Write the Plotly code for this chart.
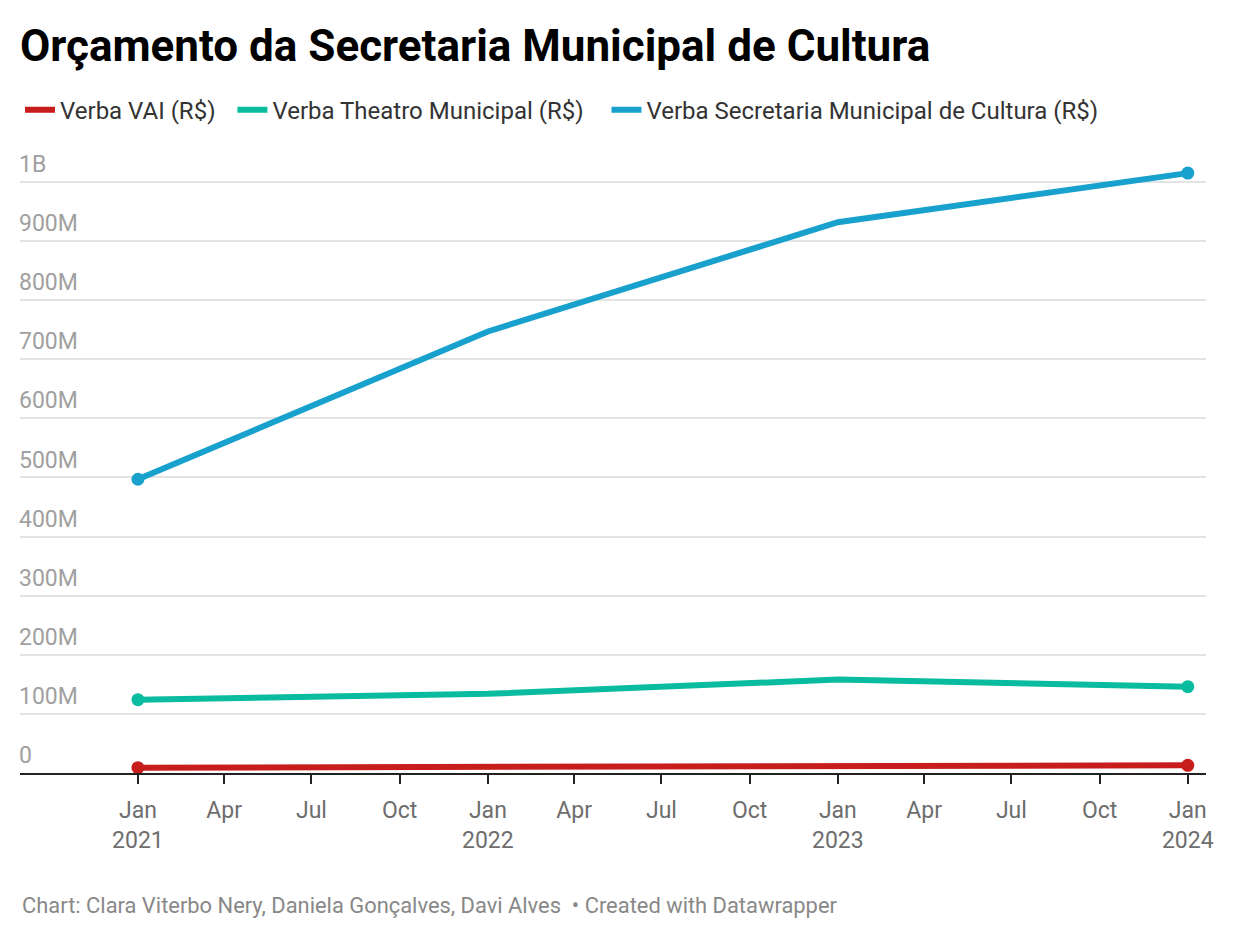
import plotly.graph_objects as go

dates = ["2021-01-01", "2022-01-01", "2023-01-01", "2024-01-01"]
vai = [9e6, 10e6, 13e6, 13e6]
theatro = [124e6, 134e6, 158e6, 146e6]
secretaria = [497e6, 747e6, 932e6, 1015e6]

series_names = ["Verba VAI (R$)", "Verba Theatro Municipal (R$)", "Verba Secretaria Municipal de Cultura (R$)"]
series_colors = ["#c71e1d", "#09bb9f", "#18a1cd"]
legend_pad = [2, 3, 0]

x_tickvals = ["2021-01-01", "2021-04-01", "2021-07-01", "2021-10-01",
              "2022-01-01", "2022-04-01", "2022-07-01", "2022-10-01",
              "2023-01-01", "2023-04-01", "2023-07-01", "2023-10-01",
              "2024-01-01"]
x_ticktext = ["Jan<br>2021", "Apr", "Jul", "Oct",
              "Jan<br>2022", "Apr", "Jul", "Oct",
              "Jan<br>2023", "Apr", "Jul", "Oct",
              "Jan<br>2024"]
y_tickvals = [0, 100e6, 200e6, 300e6, 400e6, 500e6, 600e6, 700e6, 800e6, 900e6, 1000e6]
y_ticktext = ["0", "100M", "200M", "300M", "400M", "500M", "600M", "700M", "800M", "900M", "1B"]

fig = go.Figure()
for name, vals, col, pad in zip(series_names, [vai, theatro, secretaria], series_colors, legend_pad):
    fig.add_trace(go.Scatter(
        x=dates, y=vals, name=name + "\u00a0" * pad, mode="lines",
        line=dict(color=col, width=6),
    ))
for name, vals, col in zip(series_names, [vai, theatro, secretaria], series_colors):
    fig.add_trace(go.Scatter(
        x=[dates[0], dates[-1]], y=[vals[0], vals[-1]], name=name, mode="markers",
        marker=dict(size=13, color=col, opacity=1, line=dict(width=0)),
        showlegend=False,
    ))

fig.update_layout(
    width=1240, height=940,
    paper_bgcolor="white", plot_bgcolor="white",
    font=dict(family="Roboto", size=23, color="#333333"),
    margin=dict(l=20, r=34, t=147, b=167),
    title=dict(text="<b>Orçamento da Secretaria Municipal de Cultura</b>",
               x=0.0161, xanchor="left", y=0.951, yanchor="middle",
               font=dict(family="Roboto", size=44, color="#000000")),
    legend=dict(orientation="h", x=0, xanchor="left", y=1.059, yanchor="middle",
                font=dict(size=24, color="#333333"), itemwidth=30,
                traceorder="normal"),
    showlegend=True,
    annotations=[dict(
        text="Chart: Clara Viterbo Nery, Daniela Gonçalves, Davi Alves  • Created with Datawrapper",
        xref="paper", yref="paper", x=0, xanchor="left", y=-0.212, yanchor="middle",
        showarrow=False, font=dict(size=21.9, color="#888888"))],
)

fig.update_xaxes(
    type="date", range=["2020-08-31", "2024-01-20"],
    tickvals=x_tickvals, ticktext=x_ticktext,
    ticks="outside", ticklen=9, tickwidth=2, tickcolor="#222222",
    showgrid=False, showline=True, linecolor="#222222", linewidth=2,
    tickfont=dict(size=23, color="#6e6e6e"), zeroline=False,
    ticklabelstandoff=6,
)
fig.update_yaxes(
    range=[0, 1.0592e9], tickvals=y_tickvals, ticktext=y_ticktext,
    ticklabelposition="inside", ticklabelshift=-18, ticklabelstandoff=-4,
    tickfont=dict(size=23, color="#a0a0a0"),
    showgrid=True, gridcolor="#e3e3e3", gridwidth=1.5,
    zeroline=False, showline=False,
)

fig.write_html("out.html")
